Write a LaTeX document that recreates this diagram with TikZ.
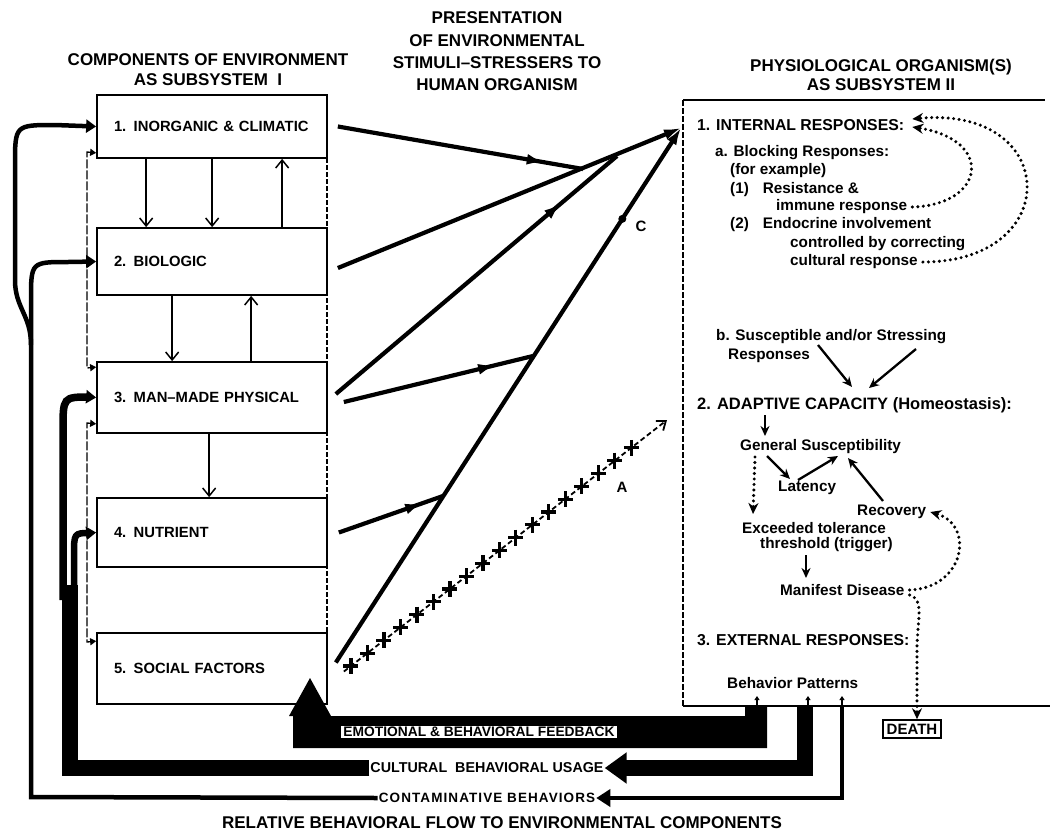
\documentclass[tikz,border=0pt]{standalone}
\usepackage{fontspec}
\setmainfont{Liberation Sans}
\usetikzlibrary{arrows.meta,decorations.markings,calc}
\newcommand{\fsz}[2]{\fontsize{#1}{#2}\selectfont\bfseries}
\begin{document}
\begin{tikzpicture}[x=1pt,y=-1pt,
  box/.style={draw,line width=1.7pt,text width=196pt,inner xsep=17pt,inner ysep=0pt,align=left,font=\fsz{14.8}{17}},
  head/.style={align=center,inner sep=0pt},
  rt/.style={anchor=west,inner sep=0pt,font=\fsz{15.3}{17}},
  rh/.style={anchor=west,inner sep=0pt,font=\fsz{15.8}{18}},
  varrow/.style={line width=1.5pt,-{Straight Barb[length=8pt,width=13pt,line width=1.5pt]}},
  sideconn/.style={line width=1.3pt,dash pattern=on 9pt off 2pt,{Triangle[length=6pt,width=7pt]}-{Triangle[length=6pt,width=7pt]}},
  mline/.style={line width=4.2pt},
  endtip/.style={-{Latex[length=17pt,width=11pt]}},
  midtip/.style={postaction={decorate},decoration={markings,mark=at position #1 with {\arrow{Latex[length=17pt,width=11pt]}}}},
  cline/.style={line width=4.5pt},
  ctip/.style={-{Triangle[length=10pt,width=13pt]}},
  rarr/.style={line width=2.3pt,-{Stealth[length=10pt,width=9pt]}},
  dotarr/.style={line width=3.4pt,dash pattern=on 0pt off 5.5pt,line cap=round,-{Stealth[length=11pt,width=10pt]}},
  aline/.style={line width=1.8pt,dash pattern=on 5pt off 3pt,-{Straight Barb[length=8pt,width=12pt,line width=1.8pt]},
    postaction={decorate},decoration={markings,mark=between positions 9pt and 368pt step 20.9pt with {\pgftransformresetnontranslations \draw[line width=3.2pt,solid,-] (-7.5,0)--(7.5,0) (0,-8)--(0,8);}}}
]
\useasboundingbox (0,0) rectangle (1053,839);

% ---------- headings ----------
\node[head,font=\fsz{17}{20}] (comp) at (208,70) {COMPONENTS OF ENVIRONMENT\\AS SUBSYSTEM\ \ I};
\node[head,font=\fsz{17}{22.3}] (pres) at (497,51.5) {PRESENTATION\\OF ENVIRONMENTAL\\STIMULI–STRESSERS TO\\HUMAN ORGANISM};
\node[head,font=\fsz{17}{19}] (phys) at (881,74.5) {PHYSIOLOGICAL ORGANISM(S)\\AS SUBSYSTEM II};
\node[head,font=\fsz{17}{20}] (rel) at (502,823) {RELATIVE BEHAVIORAL FLOW TO ENVIRONMENTAL COMPONENTS};

% ---------- subsystem I boxes ----------
\draw[line width=1.4pt,dash pattern=on 5pt off 2pt] (327,95) -- (327,704);
\node[box,minimum height=63pt] (b1) at (212,126.5) {1. INORGANIC \& CLIMATIC};
\node[box,minimum height=67pt] (b2) at (212,261.5) {2. BIOLOGIC};
\node[box,minimum height=71pt] (b3) at (212,397.5) {3. MAN–MADE PHYSICAL};
\node[box,minimum height=69pt] (b4) at (212,532.5) {4. NUTRIENT};
\node[box,minimum height=71pt] (b5) at (212,668.5) {5. SOCIAL FACTORS};

\draw[varrow] ($(b1.south west)+(50,0)$) -- ($(b2.north west)+(50,0)$);
\draw[varrow] ($(b1.south west)+(116,0)$) -- ($(b2.north west)+(116,0)$);
\draw[varrow] ($(b2.north west)+(186,0)$) -- ($(b1.south west)+(186,0)$);
\draw[varrow] ($(b2.south west)+(76,0)$) -- ($(b3.north west)+(76,0)$);
\draw[varrow] ($(b3.north west)+(155,0)$) -- ($(b2.south west)+(155,0)$);
\draw[varrow] ($(b3.south west)+(113,0)$) -- ($(b4.north west)+(113,0)$);

\draw[sideconn] ($(b1.south west)+(0,-6)$) -- (87,152) -- (87,368) -- ($(b3.north west)+(0,6)$);
\draw[sideconn] ($(b3.south west)+(0,-10)$) -- (87,423) -- (87,642) -- ($(b5.north west)+(0,9)$);

% ---------- stimuli lines ----------
\coordinate (tgt) at (681,128);
\coordinate (J1) at (583,169);
\coordinate (J4) at (617,156);
\coordinate (J2) at (533,356);
\coordinate (J3) at (443,496);
\coordinate (s5) at ($(b5.east)+(8,-6)$);
\draw[mline,midtip=0.84] ($(b1.east)+(10,0)$) -- (J1);
\draw[mline,endtip] ($(b2.east)+(10,6.5)$) -- (tgt);
\draw[mline,midtip=0.8] ($(b3.east)+(8,-3.5)$) -- (J4);
\draw[mline,midtip=0.8] ($(b3.east)+(16,4.5)$) -- (J2);
\draw[mline,midtip=0.8] ($(b4.east)+(11,0)$) -- (J3);
\draw[mline,endtip] (s5) -- (tgt);
\fill ($(s5)!0.83!(tgt)$) circle (4pt);
\node[font=\fsz{15}{17},inner sep=0pt] (lc) at (641,226) {C};

\coordinate (aend) at (667,420);
\draw[aline] ($(b5.east)+(16,3)$) -- (aend);
\node[font=\fsz{15}{17},inner sep=0pt] (la) at (622,487) {A};

% ---------- subsystem II frame ----------
\draw[line width=1.5pt] (683,100) -- (1045,100);
\draw[line width=1.5pt] (683,706) -- (1050,706);
\draw[line width=1.5pt,dash pattern=on 6pt off 2pt] (683,100) -- (683,706);

\node[rh] (int) at (697,125) {1. INTERNAL RESPONSES:};
\node[rt] (blk) at (715,153) {a. Blocking Responses:};
\node[rt] (fex) at (730,171) {(for example)};
\node[rt] (r1) at (730,190) {(1)\hspace{14pt}Resistance \&};
\node[rt] (imm) at (776,207) {immune response};
\node[rt] (r2) at (730,225) {(2)\hspace{14pt}Endocrine involvement};
\node[rt] (ctl) at (790,244) {controlled by correcting};
\node[rt] (cul) at (790,262) {cultural response};
\node[rt] (sus) at (716,337) {b. Susceptible and/or Stressing};
\node[rt] (resp) at (728,356) {Responses};
\node[rh,font=\fsz{16.5}{18}] (adp) at (697,405) {2. ADAPTIVE CAPACITY (Homeostasis):};
\node[rt] (gs) at (740,447) {General Susceptibility};
\node[rt] (lat) at (778,488) {Latency};
\node[rt] (rec) at (857,512) {Recovery};
\node[rt] (exc) at (742,528) {Exceeded tolerance};
\node[rt] (thr) at (760,545) {threshold (trigger)};
\node[rt] (man) at (780,590) {Manifest Disease};
\node[rh] (ext) at (697,640) {3. EXTERNAL RESPONSES:};
\node[rt] (bp) at (727,683) {Behavior Patterns};
\node[draw,line width=2.2pt,inner xsep=4pt,inner ysep=3.5pt,font=\fsz{15}{16}] (death) at (912,729) {DEATH};

\draw[dotarr] ($(imm.east)+(5,0)$) .. controls (985,205) and (995,140) .. ($(int.east)+(8,2)$);
\draw[dotarr] ($(cul.east)+(5,0)$) .. controls (1065,262) and (1060,105) .. ($(int.east)+(8,-6)$);
\draw[rarr] ($(sus.west)+(102,8)$) -- ($(adp.west)+(155,-18)$);
\draw[rarr] ($(sus.west)+(200,12)$) -- ($(adp.west)+(172,-17)$);
\draw[rarr] ($(adp.west)+(68,10)$) -- ($(gs.west)+(25,-11)$);
\draw[rarr] ($(gs.west)+(27,9)$) -- ($(lat.west)+(12,-9)$);
\draw[rarr] ($(lat.west)+(20,-8)$) -- ($(gs.west)+(98,9)$);
\draw[rarr] ($(rec.west)+(26,-11)$) -- ($(gs.west)+(108,11)$);
\draw[dotarr] ($(gs.west)+(15,10)$) -- ($(exc.west)+(11,-14)$);
\draw[rarr] ($(thr.west)+(46,10)$) -- ($(man.west)+(26,-12)$);
\draw[dotarr] ($(man.east)+(5,0)$) .. controls (965,588) and (975,525) .. ($(rec.east)+(4,0)$);
\draw[dotarr] ($(man.east)+(5,5)$) .. controls (925,600) and (917,620) .. (917,650) -- ($(death.north)+(5,0)$);

% behavior pattern ticks
\foreach \xx in {757,808,842}
  \draw[line width=1.5pt,-{Triangle[length=4pt,width=5pt]}] (\xx,708) -- (\xx,696);

% ---------- behavioral flows ----------
\node[font=\fsz{14.3}{16},inner sep=1pt] (cult) at (487,768) {CULTURAL\ \ BEHAVIORAL USAGE};
\node[font=\fsz{13.5}{15}\addfontfeature{LetterSpace=8},inner sep=1pt] (cont) at (487,798) {CONTAMINATIVE BEHAVIORS};

% feedback band
\fill (310,678) -- (331,716) -- (745,716) -- (745,706) -- (767,706) -- (767,748) -- (293,748) -- (293,716) -- (289,716) -- cycle;
\node[fill=white,inner xsep=2pt,inner ysep=1.5pt,font=\fsz{13.8}{15}] (fb) at (479,732) {EMOTIONAL \& BEHAVIORAL FEEDBACK};

% cultural usage
\draw[line width=16pt,-{Triangle[length=22pt,width=30pt]}] (805,706) -- (805,768) -- (cult.east);
\draw[line width=16pt] (cult.west) -- (70,768) -- (70,585);
\draw[line width=7.5pt,ctip] (63,600) -- (63,430) .. controls (63,397) .. (90,397) -- (b3.west);
\draw[line width=6.5pt,ctip] (74,600) -- (74,556) .. controls (74,533) .. (90,533) -- (b4.west);

% contaminative
\draw[cline,-{Triangle[length=14pt,width=17pt]}] (842,706) -- (842,798) -- (cont.east);
\draw[cline,ctip] (cont.west) -- (31,797) -- (31,300) .. controls (31,262) .. (68,262) -- (b2.west);
\draw[cline,ctip] (31,345) .. controls (31,315) and (15,308) .. (15,280) -- (15,165) .. controls (15,125) .. (55,125) -- (b1.west);

\end{tikzpicture}
\end{document}
